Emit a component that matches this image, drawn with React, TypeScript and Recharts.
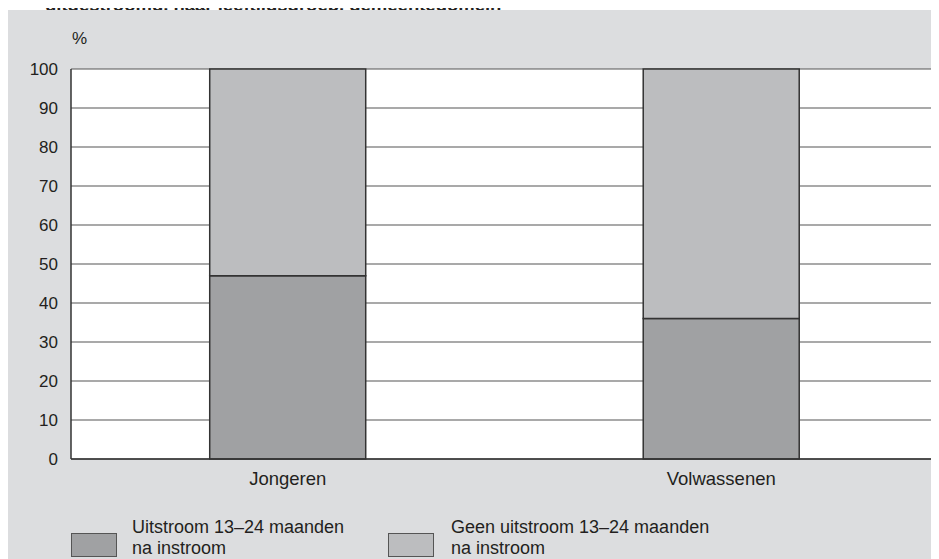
import { BarChart, Bar, XAxis, YAxis, CartesianGrid } from 'recharts';

// #region data
const categories = ['Jongeren', 'Volwassenen'];
const uitstroom = [47, 36];
const geenUitstroom = [53, 64];
const yTicks = [0, 10, 20, 30, 40, 50, 60, 70, 80, 90, 100];
const seriesNames = ['Uitstroom 13–24 maanden\nna instroom', 'Geen uitstroom 13–24 maanden\nna instroom'];
// #endregion

const data = categories.map((name, i) => ({ name, uit: uitstroom[i], geen: geenUitstroom[i] }));

const FONT = 'Arial, "Liberation Sans", sans-serif';
const INK = '#231f20';
const DARK = '#a0a1a3';
const LIGHT = '#bcbdbf';

function LegendBox() {
  const items = [
    { color: DARK, label: seriesNames[0], sx: 63, tx: 124 },
    { color: LIGHT, label: seriesNames[1], sx: 380, tx: 443 },
  ];
  return (
    <>
      {items.map((it) => (
        <div key={it.label}>
          <div
            style={{
              position: 'absolute', left: it.sx, top: 525, width: 44, height: 22,
              background: it.color, border: '1px solid #555',
            }}
          />
          <div
            style={{
              position: 'absolute', left: it.tx, top: 509, lineHeight: '21px', whiteSpace: 'pre',
              fontFamily: FONT, fontSize: 18, color: INK,
            }}
          >
            {it.label}
          </div>
        </div>
      ))}
    </>
  );
}

export default function App() {
  return (
    <div style={{ position: 'relative', width: 931, paddingTop: 2 }}>
      <div
        style={{
          position: 'absolute', left: 37, top: -12, lineHeight: '18px', fontFamily: FONT, fontSize: 18.5,
          fontWeight: 'bold', color: INK, whiteSpace: 'nowrap',
        }}
      >
        uitgestroomd, naar leeftijdsgroep, gemeentedomein
      </div>
      <BarChart
        width={931}
        height={549}
        data={data}
        margin={{ top: 59, right: 0, left: 0, bottom: 70 }}
        barCategoryGap="32%"
        style={{ background: '#dcdddf' }}
      >
        <CartesianGrid fill="#ffffff" stroke="#555" strokeWidth={1.2} vertical={false} />
        <XAxis
          dataKey="name"
          height={30}
          tickSize={0}
          tickMargin={13}
          axisLine={{ stroke: '#333', strokeWidth: 1.5 }}
          tick={{ fill: INK, fontSize: 18.5, fontFamily: FONT }}
        />
        <YAxis
          width={63}
          domain={[0, 100]}
          ticks={yTicks}
          tickSize={0}
          tickMargin={13}
          axisLine={{ stroke: '#333', strokeWidth: 1.5 }}
          tick={{ fill: INK, fontSize: 17, fontFamily: FONT }}
        />
        <YAxis
          yAxisId="right"
          orientation="right"
          width={1}
          tick={false}
          tickLine={false}
          axisLine={{ stroke: '#333', strokeWidth: 1.5 }}
        />
        <Bar dataKey="uit" stackId="a" fill={DARK} stroke="#333" strokeWidth={1.5} isAnimationActive={false} />
        <Bar dataKey="geen" stackId="a" fill={LIGHT} stroke="#333" strokeWidth={1.5} isAnimationActive={false} />
      </BarChart>
      <div
        style={{
          position: 'absolute', left: 64, top: 21.5, lineHeight: '17px', fontFamily: FONT, fontSize: 17, color: INK,
        }}
      >
        %
      </div>
      <LegendBox />
    </div>
  );
}
